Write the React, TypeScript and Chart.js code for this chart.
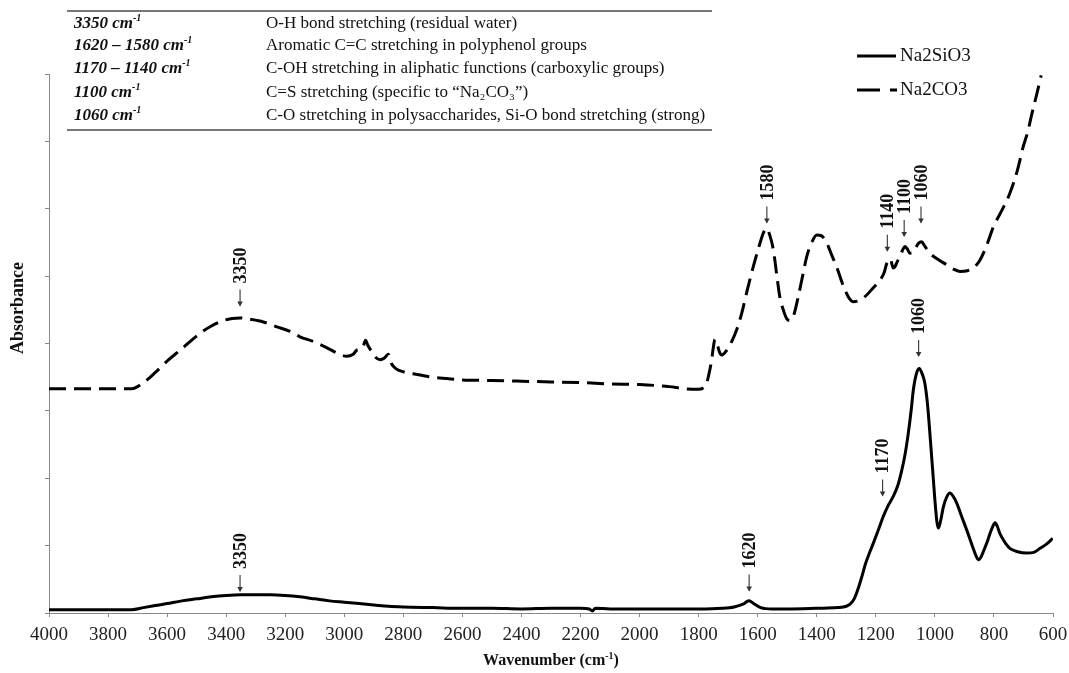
import React, { useEffect, useRef } from 'react';
import { Chart, registerables } from 'chart.js';

Chart.register(...registerables);

// ---------- DATA ----------
const siWavenumber = [4000, 3900, 3800, 3720, 3680, 3640, 3600, 3550, 3500, 3450, 3400, 3350, 3300, 3250, 3200, 3150, 3100, 3050, 3000, 2950, 2900, 2850, 2800, 2700, 2600, 2500, 2400, 2300, 2200, 2170, 2160, 2150, 2100, 2000, 1900, 1800, 1720, 1680, 1650, 1630, 1610, 1590, 1550, 1500, 1400, 1330, 1300, 1285, 1272, 1260, 1248, 1235, 1220, 1209, 1190, 1175, 1160, 1141, 1125, 1112, 1100, 1090, 1080, 1073, 1062, 1053, 1044, 1034, 1025, 1017, 1008, 1000, 993, 988, 980, 971, 960, 949, 938, 926, 910, 892, 872, 860, 853, 845, 835, 825, 810, 800, 796, 788, 780, 774, 760, 746, 720, 689, 665, 644, 620, 601];
const siAbsorbance = [0.05, 0.05, 0.05, 0.05, 0.08, 0.11, 0.14, 0.18, 0.21, 0.24, 0.26, 0.27, 0.27, 0.27, 0.26, 0.24, 0.21, 0.18, 0.16, 0.14, 0.12, 0.10, 0.09, 0.08, 0.07, 0.07, 0.06, 0.07, 0.07, 0.06, 0.03, 0.07, 0.06, 0.06, 0.06, 0.06, 0.07, 0.09, 0.13, 0.18, 0.13, 0.08, 0.06, 0.06, 0.07, 0.08, 0.10, 0.14, 0.22, 0.36, 0.53, 0.73, 0.91, 1.03, 1.25, 1.43, 1.58, 1.73, 1.90, 2.12, 2.38, 2.67, 3.02, 3.31, 3.56, 3.63, 3.56, 3.41, 3.10, 2.67, 2.15, 1.68, 1.35, 1.26, 1.38, 1.58, 1.72, 1.78, 1.73, 1.63, 1.44, 1.23, 0.98, 0.84, 0.79, 0.82, 0.92, 1.03, 1.22, 1.32, 1.34, 1.28, 1.18, 1.13, 1.03, 0.96, 0.91, 0.89, 0.90, 0.96, 1.03, 1.11];

const coWavenumber = [4000, 3900, 3800, 3720, 3680, 3640, 3600, 3556, 3489, 3450, 3410, 3380, 3353, 3320, 3274, 3230, 3184, 3150, 3105, 3060, 3026, 2992, 2970, 2958, 2945, 2935, 2928, 2920, 2907, 2895, 2879, 2865, 2851, 2840, 2823, 2800, 2766, 2700, 2653, 2600, 2500, 2400, 2300, 2200, 2100, 2000, 1900, 1850, 1801, 1785, 1773, 1765, 1757, 1750, 1745, 1738, 1730, 1722, 1705, 1688, 1670, 1654, 1635, 1615, 1595, 1580, 1570, 1560, 1547, 1535, 1525, 1512, 1502, 1490, 1478, 1463, 1448, 1434, 1415, 1400, 1385, 1366, 1350, 1333, 1318, 1304, 1290, 1276, 1255, 1231, 1210, 1186, 1172, 1163, 1157, 1150, 1145, 1141, 1135, 1127, 1118, 1110, 1101, 1093, 1085, 1079, 1065, 1055, 1045, 1035, 1017, 990, 961, 940, 915, 890, 870, 847, 825, 802, 775, 746, 720, 701, 685, 672, 655, 640];
const coAbsorbance = [3.33, 3.33, 3.33, 3.33, 3.42, 3.57, 3.74, 3.90, 4.15, 4.26, 4.34, 4.37, 4.38, 4.36, 4.32, 4.25, 4.18, 4.10, 4.03, 3.94, 3.86, 3.81, 3.84, 3.90, 3.92, 3.97, 4.05, 3.97, 3.88, 3.80, 3.76, 3.78, 3.84, 3.70, 3.62, 3.58, 3.55, 3.50, 3.48, 3.46, 3.45, 3.44, 3.43, 3.42, 3.40, 3.39, 3.36, 3.33, 3.32, 3.34, 3.41, 3.55, 3.73, 3.95, 4.06, 4.00, 3.88, 3.83, 3.90, 4.03, 4.22, 4.45, 4.80, 5.14, 5.45, 5.65, 5.71, 5.62, 5.39, 5.00, 4.69, 4.48, 4.37, 4.34, 4.42, 4.69, 5.00, 5.29, 5.52, 5.61, 5.60, 5.49, 5.32, 5.14, 4.95, 4.79, 4.67, 4.62, 4.64, 4.72, 4.82, 4.94, 5.05, 5.19, 5.25, 5.25, 5.17, 5.12, 5.14, 5.22, 5.29, 5.38, 5.44, 5.40, 5.34, 5.34, 5.42, 5.49, 5.51, 5.45, 5.34, 5.25, 5.17, 5.11, 5.07, 5.08, 5.12, 5.24, 5.45, 5.73, 5.96, 6.23, 6.58, 6.92, 7.15, 7.40, 7.70, 7.98];

const seriesNames = ['Na2SiO3', 'Na2CO3'];
const xMin = 600;
const xMax = 4000;
const xStep = 200;
const yMin = 0;
const yMax = 8;

// peak markers: wavenumber, absorbance at arrow tip, label
const coMarkWn = [3353, 1569, 1161, 1104, 1047];
const coMarkAbs = [4.55, 5.78, 5.36, 5.58, 5.78];
const coMarkLabel = ['3350', '1580', '1140', '1100', '1060'];
const siMarkWn = [3353, 1629, 1177, 1055];
const siMarkAbs = [0.31, 0.32, 1.73, 3.80];
const siMarkLabel = ['3350', '1620', '1170', '1060'];

const tableBand = ['3350', '1620 – 1580', '1170 – 1140', '1100', '1060'];
const tableDesc = [
  'O-H bond stretching (residual water)',
  'Aromatic C=C stretching in polyphenol groups',
  'C-OH stretching in aliphatic functions (carboxylic groups)',
  'C=S stretching (specific to “Na₂CO₃”)',
  'C-O stretching in polysaccharides, Si-O bond stretching (strong)',
];

const xTitle = 'Wavenumber (cm';
const yTitle = 'Absorbance';

const SERIF = '"Liberation Serif", "Times New Roman", serif';

function toPoints(xs: number[], ys: number[]) {
  return xs.map((x, i) => ({ x, y: ys[i] }));
}

const overlayPlugin = {
  id: 'overlay',
  afterDraw(chart: any) {
    const ctx = chart.ctx as CanvasRenderingContext2D;
    const xs = chart.scales.x;
    const ys = chart.scales.y;
    const area = chart.chartArea;

    const drawMark = (wn: number, ab: number, label: string) => {
      const px = xs.getPixelForValue(wn);
      const py = ys.getPixelForValue(ab);
      ctx.save();
      ctx.translate(px, py);
      ctx.rotate(-Math.PI / 2);
      ctx.strokeStyle = '#333';
      ctx.fillStyle = '#333';
      ctx.lineWidth = 1.1;
      ctx.beginPath();
      ctx.moveTo(1, 0);
      ctx.lineTo(17, 0);
      ctx.stroke();
      ctx.beginPath();
      ctx.moveTo(0, 0);
      ctx.lineTo(5, -2.8);
      ctx.lineTo(5, 2.8);
      ctx.closePath();
      ctx.fill();
      ctx.fillStyle = '#111';
      ctx.font = `bold 18px ${SERIF}`;
      ctx.textAlign = 'left';
      ctx.textBaseline = 'middle';
      ctx.fillText(label, 23, 1);
      ctx.restore();
    };
    coMarkWn.forEach((wn, i) => drawMark(wn, coMarkAbs[i], coMarkLabel[i]));
    siMarkWn.forEach((wn, i) => drawMark(wn, siMarkAbs[i], siMarkLabel[i]));

    // axis titles
    ctx.save();
    ctx.fillStyle = '#111';
    ctx.font = `bold 16px ${SERIF}`;
    ctx.textBaseline = 'middle';
    const mainW = ctx.measureText(xTitle).width;
    ctx.font = `bold 10px ${SERIF}`;
    const supW = ctx.measureText('-1').width;
    ctx.font = `bold 16px ${SERIF}`;
    const closeW = ctx.measureText(')').width;
    const total = mainW + supW + closeW;
    const cx = (area.left + area.right) / 2;
    const sx = cx - total / 2;
    const ty = 661;
    ctx.textAlign = 'left';
    ctx.fillText(xTitle, sx, ty);
    ctx.font = `bold 10px ${SERIF}`;
    ctx.fillText('-1', sx + mainW, ty - 5);
    ctx.font = `bold 16px ${SERIF}`;
    ctx.fillText(')', sx + mainW + supW, ty);

    ctx.font = `bold 18px ${SERIF}`;
    ctx.translate(18, 308);
    ctx.rotate(-Math.PI / 2);
    ctx.textAlign = 'center';
    ctx.fillText(yTitle, 0, 0);
    ctx.restore();

    // legend
    ctx.save();
    ctx.strokeStyle = '#000';
    ctx.lineWidth = 3;
    ctx.beginPath();
    ctx.moveTo(857, 56);
    ctx.lineTo(896, 56);
    ctx.stroke();
    ctx.setLineDash([23, 10]);
    ctx.beginPath();
    ctx.moveTo(857, 90);
    ctx.lineTo(897, 90);
    ctx.stroke();
    ctx.setLineDash([]);
    ctx.fillStyle = '#111';
    ctx.font = `19px ${SERIF}`;
    ctx.textAlign = 'left';
    ctx.textBaseline = 'middle';
    ctx.fillText(seriesNames[0], 900, 56);
    ctx.fillText(seriesNames[1], 900, 90);
    ctx.restore();
  },
};

export default function App() {
  const canvasRef = useRef<HTMLCanvasElement>(null);

  useEffect(() => {
    const canvas = canvasRef.current;
    if (!canvas) return;
    const chart = new Chart(canvas, {
      type: 'line',
      data: {
        datasets: [
          {
            label: seriesNames[0],
            data: toPoints(siWavenumber, siAbsorbance),
            borderColor: '#000',
            borderWidth: 3,
            pointRadius: 0,
            fill: false,
            cubicInterpolationMode: 'monotone',
          },
          {
            label: seriesNames[1],
            data: toPoints(coWavenumber, coAbsorbance),
            borderColor: '#000',
            borderWidth: 3,
            borderDash: [17, 8],
            pointRadius: 0,
            fill: false,
            cubicInterpolationMode: 'monotone',
          },
        ],
      },
      options: {
        responsive: false,
        animation: false,
        devicePixelRatio: 1,
        layout: { padding: { top: 74, right: 16, left: 0, bottom: 0 } },
        plugins: {
          legend: { display: false },
          tooltip: { enabled: false },
          title: { display: false },
        },
        scales: {
          x: {
            type: 'linear',
            reverse: true,
            min: xMin,
            max: xMax,
            afterFit: (s: any) => {
              s.height = 60;
              s.paddingLeft = 0;
              s.paddingRight = 0;
            },
            ticks: {
              stepSize: xStep,
              autoSkip: false,
              maxRotation: 0,
              color: '#222',
              padding: 7,
              font: { family: SERIF, size: 19 },
              callback: (v: any) => String(v),
            },
            grid: {
              drawOnChartArea: false,
              drawTicks: true,
              tickLength: 4,
              color: '#888',
            },
            border: { color: '#888', width: 1 },
          },
          y: {
            type: 'linear',
            min: yMin,
            max: yMax,
            afterFit: (s: any) => {
              s.width = 49;
              s.paddingTop = 0;
              s.paddingBottom = 0;
            },
            ticks: {
              stepSize: 1,
              callback: () => '',
            },
            grid: {
              drawOnChartArea: false,
              drawTicks: true,
              tickLength: 4,
              color: '#888',
            },
            border: { color: '#888', width: 1 },
          },
        },
      },
      plugins: [overlayPlugin],
    } as any);
    return () => chart.destroy();
  }, []);

  const rowTops = [23, 45, 68, 92, 115];

  return (
    <div style={{ position: 'fixed', left: 0, top: 0, width: 1069, height: 673, background: '#fff', overflow: 'hidden' }}>
      <canvas ref={canvasRef} width={1069} height={673} style={{ position: 'absolute', left: 0, top: 0, width: 1069, height: 673 }} />
      <div style={{ position: 'absolute', left: 67, top: 10, width: 645, height: 0, borderTop: '2px solid #777' }} />
      <div style={{ position: 'absolute', left: 67, top: 129, width: 645, height: 0, borderTop: '2px solid #777' }} />
      {tableBand.map((b, i) => (
        <div
          key={'b' + i}
          style={{
            position: 'absolute',
            left: 74,
            top: rowTops[i] - 11,
            fontFamily: SERIF,
            fontSize: 17,
            fontWeight: 'bold',
            fontStyle: 'italic',
            lineHeight: '22px',
            whiteSpace: 'nowrap',
            color: '#111',
          }}
        >
          {b} cm<sup style={{ fontSize: 10, verticalAlign: 'top', lineHeight: '12px' }}>-1</sup>
        </div>
      ))}
      {tableDesc.map((d, i) => (
        <div
          key={'d' + i}
          style={{
            position: 'absolute',
            left: 266,
            top: rowTops[i] - 11,
            fontFamily: SERIF,
            fontSize: 17,
            lineHeight: '22px',
            whiteSpace: 'nowrap',
            color: '#111',
          }}
        >
          {d}
        </div>
      ))}
    </div>
  );
}
